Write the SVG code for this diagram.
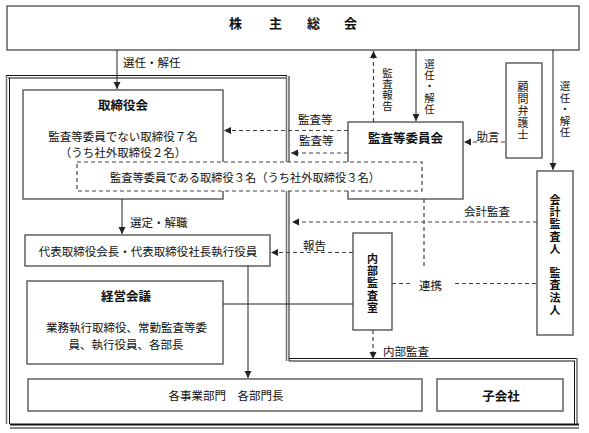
<svg xmlns="http://www.w3.org/2000/svg" width="589" height="433" viewBox="0 0 589 433">
<defs>
<marker id="ah" markerUnits="userSpaceOnUse" markerWidth="8" markerHeight="8" refX="7" refY="3.5" orient="auto">
<path d="M0,0 L7,3.5 L0,7 z" fill="#222"/>
</marker>
<style>
.box{fill:#fff;stroke:#555;stroke-width:1.4}
.frame{fill:none;stroke:#111;stroke-width:1}
.frameg{fill:none;stroke:#777;stroke-width:1.6}
.solid{fill:none;stroke:#222;stroke-width:1}
.dash{fill:none;stroke:#444;stroke-width:1.2;stroke-dasharray:4,3}
text{font-family:"Noto Sans CJK JP","Noto Sans",sans-serif;font-size:11.5px;fill:#111;dominant-baseline:central}
.c{text-anchor:middle}
.b{font-weight:bold;font-size:12.5px}
.v{font-size:10.5px}
.v tspan{text-anchor:middle}
.vb{font-size:11px;font-weight:bold}
.vb tspan{text-anchor:middle}
</style>
</defs>
<rect width="589" height="433" fill="#fff"/>

<g id="frame">
<path class="frame" d="M6,75.5 H287 M8,78 H286"/>
<path class="frameg" d="M6.5,76 V424"/>
<path class="frame" d="M9.5,78 V424"/>
<path class="frameg" d="M286.5,76 V361"/>
<path class="frame" d="M289,76 V361"/>
<path class="frame" d="M289,358.5 H577 M289,361 H575"/>
<path class="frame" d="M574.5,361 V424"/>
<path class="frameg" d="M577,358 V425"/>
<path class="frame" d="M10,424.5 H579" style="stroke-width:2"/>
<path class="frame" d="M10,428 H579"/>
</g>

<g id="kabunushi">
<rect class="box" x="7" y="6" width="572" height="44"/>
<text class="b" x="229 269 307 344" y="22" style="font-size:13px">株主総会</text>
</g>

<g id="torishimariyakukai">
<rect class="box" x="23" y="90" width="200" height="109"/>
<text class="c b" x="123" y="104">取締役会</text>
<text class="c" x="123" y="136">監査等委員でない取締役７名</text>
<text class="c" x="123" y="152">（うち社外取締役２名）</text>
</g>

<g id="kansatouiinkai">
<rect class="box" x="348" y="122" width="115" height="77"/>
<text class="c b" x="405.5" y="137">監査等委員会</text>
</g>

<g id="komon">
<rect class="box" x="506" y="63" width="36" height="95"/>
<text class="v" style="font-size:11px"><tspan x="523" y="85.5">顧</tspan><tspan x="523" y="97.5">問</tspan><tspan x="523" y="109.5">弁</tspan><tspan x="523" y="121.5">護</tspan><tspan x="523" y="133.5">士</tspan></text>
</g>

<g id="kaikeikansanin">
<rect class="box" x="537" y="171" width="36" height="164"/>
<text class="vb"><tspan x="555" y="199">会</tspan><tspan x="555" y="211.2">計</tspan><tspan x="555" y="223.4">監</tspan><tspan x="555" y="235.6">査</tspan><tspan x="555" y="247.8">人</tspan><tspan x="555" y="272.2">監</tspan><tspan x="555" y="284.4">査</tspan><tspan x="555" y="296.6">法</tspan><tspan x="555" y="308.8">人</tspan></text>
</g>

<g id="daihyo">
<rect class="box" x="25" y="235" width="245" height="31"/>
<text class="c" x="148" y="251">代表取締役会長・代表取締役社長執行役員</text>
</g>

<g id="naibukansa">
<rect class="box" x="353" y="233" width="39" height="97"/>
<text class="vb"><tspan x="372.5" y="258">内</tspan><tspan x="372.5" y="270.2">部</tspan><tspan x="372.5" y="282.4">監</tspan><tspan x="372.5" y="294.6">査</tspan><tspan x="372.5" y="306.8">室</tspan></text>
</g>

<g id="keiei">
<rect class="box" x="27" y="281" width="196" height="83"/>
<text class="c b" x="126" y="295">経営会議</text>
<text class="c" x="126.5" y="327">業務執行取締役、常勤監査等委</text>
<text class="c" x="126" y="344">員、執行役員、各部長</text>
</g>

<g id="jigyobumon">
<rect class="box" x="28" y="379" width="394" height="32"/>
<text class="c" x="226" y="395">各事業部門　各部門長</text>
</g>

<g id="kogaisha">
<rect class="box" x="437" y="379" width="126" height="32"/>
<text class="c b" x="501" y="395">子会社</text>
</g>

<g id="connectors">
<path class="solid" d="M117,50 V89" marker-end="url(#ah)"/>
<text x="123" y="62">選任・解任</text>
<path class="dash" d="M373.5,122 V51" marker-end="url(#ah)"/>
<text class="v"><tspan x="387.5" y="71.6">監</tspan><tspan x="387.5" y="82.8">査</tspan><tspan x="387.5" y="94">報</tspan><tspan x="387.5" y="105.2">告</tspan></text>
<path class="solid" d="M416,50 V121" marker-end="url(#ah)"/>
<text class="v"><tspan x="429.5" y="62.6">選</tspan><tspan x="429.5" y="73.9">任</tspan><tspan x="429.5" y="85.2">・</tspan><tspan x="429.5" y="96.5">解</tspan><tspan x="429.5" y="107.8">任</tspan></text>
<path class="solid" d="M553,50 V170" marker-end="url(#ah)"/>
<text class="v"><tspan x="565" y="85">選</tspan><tspan x="565" y="96.5">任</tspan><tspan x="565" y="108">・</tspan><tspan x="565" y="119.5">解</tspan><tspan x="565" y="131">任</tspan></text>
<path class="dash" d="M505,142 H464" marker-end="url(#ah)"/>
<text x="476.5" y="135.5">助言</text>
<path class="dash" d="M348,130.5 H224" marker-end="url(#ah)"/>
<text x="298" y="119">監査等</text>
<path class="dash" d="M348,153 H291" marker-end="url(#ah)"/>
<text x="299" y="140">監査等</text>
<path class="solid" d="M122,199 V234" marker-end="url(#ah)"/>
<text x="130" y="222">選定・解職</text>
<path class="dash" d="M537,222 H292" marker-end="url(#ah)"/>
<text x="464" y="211">会計監査</text>
<path class="dash" d="M353,252.5 H271" marker-end="url(#ah)"/>
<text x="303" y="245">報告</text>
<path class="dash" d="M424,199 V267"/>
<path class="dash" d="M392,283.5 H411 M455,283.5 H537"/>
<text x="419" y="285">連携</text>
<path class="solid" d="M223,304 H353"/>
<path class="solid" d="M248,266 V378" marker-end="url(#ah)"/>
<path class="dash" d="M373,330 V359" marker-end="url(#ah)"/>
<text x="383" y="350.5">内部監査</text>
</g>

<g id="kansatouiin-torishimariyaku">
<rect x="77" y="162" width="345" height="29" fill="#fff" stroke="#444" stroke-width="1.2" stroke-dasharray="4,3"/>
<text x="110" y="176.5" textLength="270" lengthAdjust="spacingAndGlyphs">監査等委員である取締役３名（うち社外取締役３名）</text>
</g>
</svg>
